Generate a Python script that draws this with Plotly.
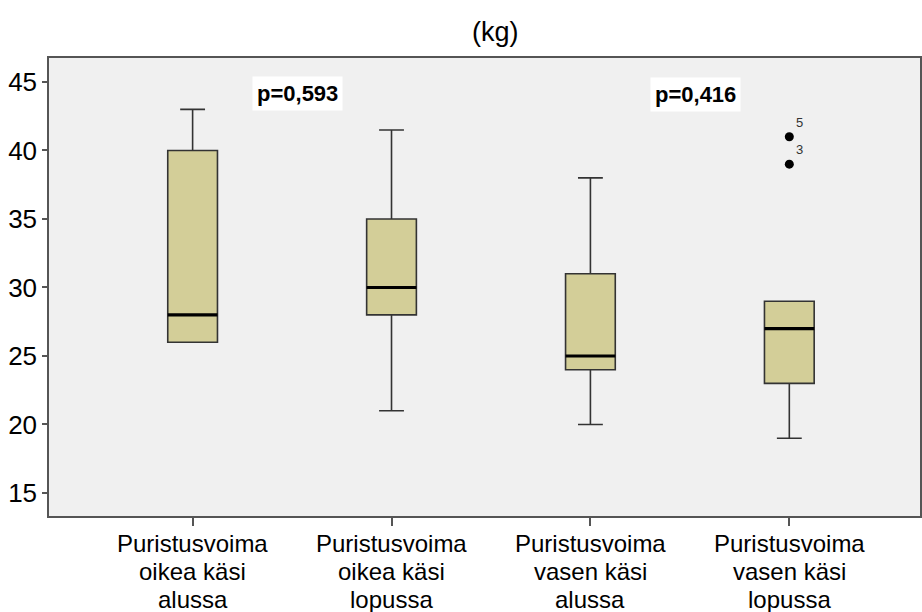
import plotly.graph_objects as go

categories = ["Puristusvoima<br>oikea käsi<br>alussa",
              "Puristusvoima<br>oikea käsi<br>lopussa",
              "Puristusvoima<br>vasen käsi<br>alussa",
              "Puristusvoima<br>vasen käsi<br>lopussa"]
lower_whisker = [26, 21, 20, 19]
q1_values = [26, 28, 24, 23]
median_values = [28, 30, 25, 27]
q3_values = [40, 35, 31, 29]
upper_whisker = [43, 41.5, 38, 29]
outlier_group = [3, 3]
outlier_values = [41, 39]
outlier_labels = ["5", "3"]
p_labels = ["p=0,593", "p=0,416"]
y_ticks = [15, 20, 25, 30, 35, 40, 45]

FONT = "Arial, Liberation Sans, sans-serif"
BOX_W = 0.25
XLAB_SIZE = 24
xs = list(range(len(categories)))

fig = go.Figure()
fig.add_trace(go.Box(
    x=xs, q1=q1_values, median=median_values, q3=q3_values,
    lowerfence=lower_whisker, upperfence=upper_whisker,
    width=BOX_W, whiskerwidth=0.5, boxpoints=False,
    fillcolor="rgb(211,206,152)", line=dict(color="#333333", width=1.6),
    showlegend=False, hoverinfo="skip"))

mx, my = [], []
for i, m in zip(xs, median_values):
    mx += [i - BOX_W / 2, i + BOX_W / 2, None]
    my += [m, m, None]
fig.add_trace(go.Scatter(x=mx, y=my, mode="lines",
                         line=dict(color="black", width=3.2),
                         showlegend=False, hoverinfo="skip"))

fig.add_trace(go.Scatter(x=outlier_group, y=outlier_values, mode="markers+text",
                         text=outlier_labels, textposition="top right",
                         textfont=dict(family=FONT, size=13, color="#333"),
                         marker=dict(color="black", size=9),
                         showlegend=False, hoverinfo="skip"))

annotations = [
    dict(text="(kg)", xref="paper", yref="paper", x=0.513, y=1.057,
         xanchor="center", yanchor="middle", showarrow=False,
         font=dict(family=FONT, size=27, color="black")),
    dict(text="<b>" + p_labels[0] + "</b>", xref="x", yref="y",
         x=0.30, y=44.15, xanchor="left", yanchor="middle", showarrow=False,
         bgcolor="white", borderpad=4,
         font=dict(family=FONT, size=22, color="black")),
    dict(text="<b>" + p_labels[1] + "</b>", xref="x", yref="y",
         x=2.30, y=44.05, xanchor="left", yanchor="middle", showarrow=False,
         bgcolor="white", borderpad=4,
         font=dict(family=FONT, size=22, color="black")),
]
line_gap = 28
for i, cat in zip(xs, categories):
    for k, line in enumerate(cat.split("<br>")):
        annotations.append(dict(
            text=line, xref="x", yref="paper", x=i, y=0,
            xanchor="center", yanchor="middle", showarrow=False,
            yshift=-(27 + k * line_gap), borderpad=0,
            font=dict(family=FONT, size=XLAB_SIZE, color="black")))

fig.update_layout(
    width=922, height=612,
    margin=dict(l=49, r=0, t=58, b=96),
    paper_bgcolor="white", plot_bgcolor="rgb(240,240,240)",
    font=dict(family=FONT, color="black"),
    xaxis=dict(range=[-0.722, 3.657], tickvals=xs, ticktext=[""] * len(xs),
               ticks="outside", ticklen=8, tickcolor="#555", tickwidth=1.5,
               showline=True, linecolor="#555", linewidth=1.5, mirror=True,
               showgrid=False, zeroline=False),
    yaxis=dict(range=[13.32, 46.75], tickvals=y_ticks,
               ticks="outside", ticklen=5, tickcolor="#555", tickwidth=1.5,
               showline=True, linecolor="#555", linewidth=1.5, mirror=True,
               showgrid=False, zeroline=False,
               tickfont=dict(family=FONT, size=26, color="black")),
    annotations=annotations,
)

fig.write_html("out.html")
